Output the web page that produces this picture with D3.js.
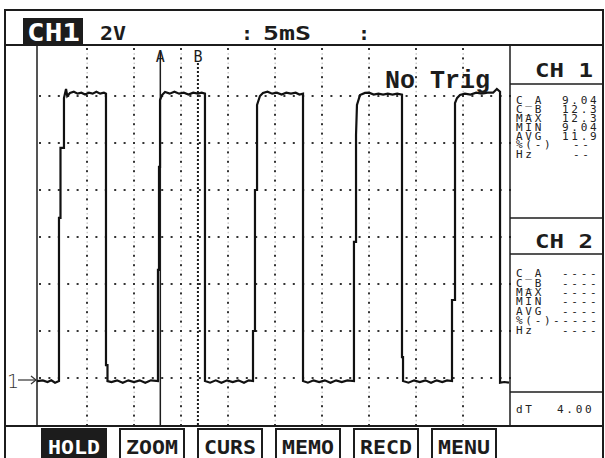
<!DOCTYPE html>
<html><head><meta charset="utf-8">
<script src="https://cdn.jsdelivr.net/npm/d3@7"></script>
<style>body{margin:0;background:#fff}svg{display:block}text{white-space:pre}</style>
</head><body>
<script>
// ---------- data ----------
const header = {ch: "CH1", volts: "2V", time: "5mS"};
const trigText = "No Trig";
// waveform samples: time (ms) and voltage (V)
const timeMs = [-0.32,0.3,0.8,1.2,1.6,2.02,2.02,2.18,2.18,2.55,2.55,2.77,2.9,3.19,3.6,4.0,4.4,4.8,5.2,5.6,6.0,6.4,6.8,7.02,7.02,7.18,7.18,
 7.6,8.2,8.8,9.4,10,10.6,11.2,11.8,12.55,12.55,12.66,12.66,12.77,12.77,12.98,13.3,13.8,14.3,14.8,15.3,15.8,16.3,16.8,17.2,17.55,17.55,
 18.1,18.7,19.3,19.9,20.5,21.1,21.7,22.2,22.66,22.66,22.87,22.87,23.09,23.09,23.4,23.72,24.2,24.7,25.2,25.7,26.2,26.7,27.2,27.6,27.98,27.98,
 28.5,29.1,29.7,30.3,30.9,31.5,32.1,32.7,33.4,33.4,33.62,33.62,33.72,34.04,34.57,35.0,35.5,36.0,36.5,37.0,37.5,38.0,38.51,38.51,38.62,38.62,
 39.2,39.8,40.4,41.0,41.6,42.2,42.8,43.3,43.83,43.83,44.15,44.15,44.36,44.68,45.2,45.8,46.4,47.0,47.6,48.2,48.6,48.94,48.94,49.4,49.89];
const volts = [-0.13,-0.1,-0.17,-0.1,-0.2,-0.13,6.81,6.81,9.79,9.79,11.91,12.3,12.0,12.13,
 12.18,12.1,12.14,12.06,12.14,12.1,12.18,12.1,12.14,12.1,0.55,0.55,-0.13,
 -0.17,-0.1,-0.2,-0.1,-0.17,-0.1,-0.2,-0.1,-0.13,4.6,4.6,8.98,8.98,11.83,12.04,12.17,
 12.1,12.18,12.1,12.14,12.06,12.14,12.1,12.14,12.1,-0.13,
 -0.2,-0.1,-0.2,-0.1,-0.17,-0.1,-0.2,-0.1,-0.13,2.0,2.0,8.0,8.0,11.62,12.0,12.13,
 12.18,12.1,12.14,12.06,12.14,12.1,12.14,12.06,12.1,-0.13,
 -0.2,-0.1,-0.17,-0.1,-0.2,-0.1,-0.17,-0.1,-0.13,5.79,5.79,10.34,11.62,12.04,12.13,
 12.14,12.06,12.1,12.06,12.1,12.06,12.1,12.06,0.89,0.89,-0.13,
 -0.2,-0.1,-0.17,-0.1,-0.2,-0.1,-0.17,-0.1,-0.13,3.32,3.32,11.7,11.91,12.04,
 12.1,12.06,12.14,12.1,12.14,12.14,12.3,12.18,-0.2,-0.17,-0.2];
const cursorA = 12.8, cursorB = 16.8; // ms
const statLabels = ["C_A","C_B","MAX","MIN","AVG","%(-)","Hz"];
const ch1Values = ["9.04","12.3","12.3","9.04","11.9","--","--"];
const ch2Values = ["----","----","----","----","----","----","----"];
const buttons = ["HOLD","ZOOM","CURS","MEMO","RECD","MENU"];

// ---------- drawing ----------
const ink = "#1c1c1c";
const svg = d3.select("body").append("svg").attr("width",605).attr("height",458);
svg.append("rect").attr("width",605).attr("height",458).attr("fill","#fff");

const x = d3.scaleLinear().domain([0,50]).range([40,510]);
const y = d3.scaleLinear().domain([-2,14]).range([425,49]);

// grid dots
const g = svg.append("g").attr("fill","#333");
const hLevels = d3.range(0,12.01,2);
const vTimes = d3.range(5,45.01,5);
hLevels.forEach(v=>{
  d3.range(0,50.01,1).forEach(t=>{
    g.append("rect").attr("x",x(t)-1).attr("y",y(v)-1).attr("width",2).attr("height",2);
  });
});
vTimes.forEach(t=>{
  d3.range(-2,14.01,0.4).forEach(v=>{
    g.append("rect").attr("x",x(t)-1).attr("y",y(v)-1).attr("width",2).attr("height",2);
  });
});
// faint secondary dots
const g2 = svg.append("g").attr("fill","#c8c8c8");
vTimes.forEach(t=>{
  d3.range(-1.8,14,0.4).forEach(v=>{
    g2.append("rect").attr("x",x(t)-0.5).attr("y",y(v)-0.5).attr("width",1.5).attr("height",1.5);
  });
});

// frame
const frame = svg.append("g").attr("stroke",ink).attr("fill","none");
frame.append("rect").attr("x",5).attr("y",10).attr("width",598).attr("height",460).attr("stroke-width",2);
frame.append("line").attr("x1",5).attr("x2",603).attr("y1",45).attr("y2",45).attr("stroke-width",2);
frame.append("line").attr("x1",5).attr("x2",603).attr("y1",426).attr("y2",426).attr("stroke-width",2);
frame.append("line").attr("x1",37).attr("x2",37).attr("y1",45).attr("y2",426).attr("stroke-width",1.5);
frame.append("line").attr("x1",510).attr("x2",510).attr("y1",45).attr("y2",426).attr("stroke-width",1.5);
frame.append("line").attr("x1",510).attr("x2",603).attr("y1",84).attr("y2",84).attr("stroke-width",1.5);
frame.append("line").attr("x1",510).attr("x2",603).attr("y1",218).attr("y2",218).attr("stroke-width",1.5);
frame.append("line").attr("x1",510).attr("x2",603).attr("y1",254).attr("y2",254).attr("stroke-width",1.5);
frame.append("line").attr("x1",510).attr("x2",603).attr("y1",392).attr("y2",392).attr("stroke-width",1.5);

function txt(parent, xp, yp, s, size, opts={}){
  const t = parent.append("text").attr("x",xp).attr("y",yp).text(s)
    .attr("font-family", opts.family || "DejaVu Sans Mono")
    .attr("font-size", size)
    .attr("font-weight", opts.weight || "normal")
    .attr("fill", opts.fill || ink)
    .attr("text-anchor", opts.anchor || "start");
  if (opts.len) t.attr("textLength",opts.len).attr("lengthAdjust","spacingAndGlyphs");
  if (opts.ls) t.attr("letter-spacing",opts.ls);
  return t;
}

// header
svg.append("rect").attr("x",23).attr("y",18).attr("width",60).attr("height",26).attr("fill",ink);
txt(svg,27,41,header.ch,24,{weight:"bold",fill:"#fff",len:53});
txt(svg,100,40,header.volts,20,{weight:"bold",len:26});
txt(svg,241,40,":",20,{weight:"bold"});
txt(svg,263,40,header.time,20,{weight:"bold",len:48});
txt(svg,358,40,":",20,{weight:"bold"});

// cursors
svg.append("line").attr("x1",x(cursorA)).attr("x2",x(cursorA)).attr("y1",52).attr("y2",426)
  .attr("stroke",ink).attr("stroke-width",1.5);
svg.append("line").attr("x1",x(cursorB)).attr("x2",x(cursorB)).attr("y1",63).attr("y2",426)
  .attr("stroke",ink).attr("stroke-width",2).attr("stroke-dasharray","2,2");
txt(svg,x(cursorA),62,"A",15,{anchor:"middle"});
txt(svg,x(cursorB),62,"B",15,{anchor:"middle"});

// trace
const pts = timeMs.map((t,i)=>[t,volts[i]]);
svg.append("path").datum(pts)
  .attr("d", d3.line().x(d=>x(d[0])).y(d=>y(d[1])))
  .attr("fill","none").attr("stroke","#111").attr("stroke-width",2.2).attr("stroke-linejoin","miter");

// No Trig
txt(svg,385,88,trigText,25,{weight:"bold",family:"Liberation Mono",len:105});

// ground marker
const gy = y(0)+2;
txt(svg,7,388,"1",19,{family:"DejaVu Sans",weight:"300",fill:"#333"});
svg.append("line").attr("x1",18).attr("x2",36).attr("y1",gy).attr("y2",gy).attr("stroke","#333").attr("stroke-width",1.2);
svg.append("path").attr("d",`M31,${gy-4}L36,${gy}L31,${gy+4}`).attr("fill","none").attr("stroke","#333").attr("stroke-width",1.2);

// right panel
const panel = svg.append("g");
svg.append("clipPath").attr("id","pc").append("rect").attr("x",511).attr("y",45).attr("width",91).attr("height",381);
panel.attr("clip-path","url(#pc)");
txt(panel,564,77,"CH 1",20,{weight:"bold",anchor:"middle",len:58});
txt(panel,564,248,"CH 2",20,{weight:"bold",anchor:"middle",len:58});
const ch1Y = [104,113,122,131,140,148,158];
const ch2Y = [277,287,296,305,315,324,334];
const sOpt = {ls:2.7,fill:"#222"};
statLabels.forEach((l,i)=>{
  txt(panel,516,ch1Y[i],l,11,sOpt);
  const v1 = ch1Values[i];
  txt(panel, v1==="--"?573:562, ch1Y[i], v1, 11,sOpt);
  txt(panel,516,ch2Y[i],l,11,sOpt);
  txt(panel, l==="%(-)"?553:562, ch2Y[i], ch2Values[i]+(l==="%(-)"?"-":""), 11,sOpt);
});
txt(panel,516,413,"dT",11,sOpt);
txt(panel,557,413,d3.format(".2f")(cursorB-cursorA),11,sOpt);

// buttons
const bx = d3.scalePoint().domain(buttons).range([42,432]);
buttons.forEach((b,i)=>{
  const x0 = bx(b);
  svg.append("rect").attr("x",x0).attr("y",429).attr("width",64).attr("height",32)
    .attr("fill", i===0?ink:"#fff").attr("stroke",ink).attr("stroke-width",2);
  txt(svg,x0+32,454,b,19,{weight:"bold",anchor:"middle",len:52,fill:i===0?"#fff":ink});
});
</script>
</body></html>
